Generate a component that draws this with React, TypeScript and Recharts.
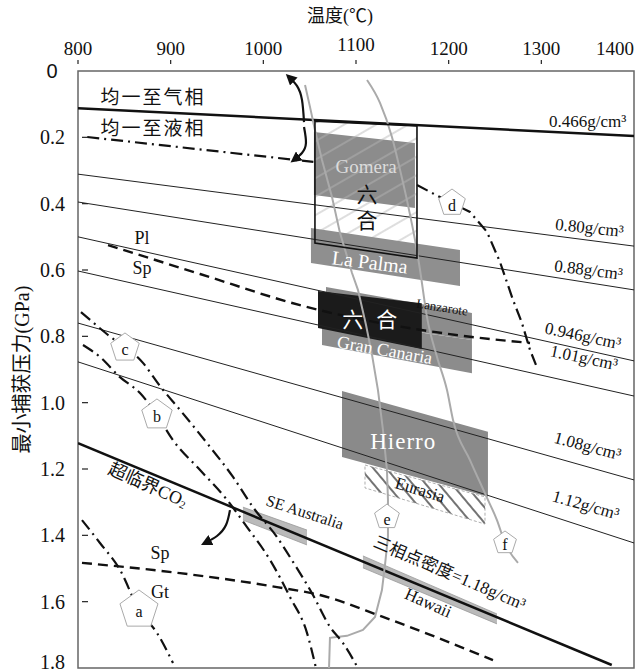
import React from "react";
import { ComposedChart, Line, Area, Scatter, XAxis, YAxis, ReferenceArea } from "recharts";

const W = 636;
const H = 672;
const SERIF = "'Liberation Serif', 'Noto Sans CJK SC', serif";

const tempTicks = [800, 900, 1000, 1100, 1200, 1300, 1400];
const pressTicks = [0, 0.2, 0.4, 0.6, 0.8, 1.0, 1.2, 1.4, 1.6, 1.8];

// 等容线
const iso0466 = [{ T: 800, P: 0.112 }, { T: 1400, P: 0.196 }];
const iso080 = [{ T: 800, P: 0.311 }, { T: 1400, P: 0.528 }];
const iso088 = [{ T: 800, P: 0.395 }, { T: 1400, P: 0.66 }];
const iso0946 = [{ T: 800, P: 0.5 }, { T: 1400, P: 0.874 }];
const iso101 = [{ T: 800, P: 0.603 }, { T: 1400, P: 0.98 }];
const iso108 = [{ T: 800, P: 0.76 }, { T: 1400, P: 1.233 }];
const iso112 = [{ T: 800, P: 0.877 }, { T: 1400, P: 1.423 }];
const isoThin = [iso080, iso088, iso0946, iso101, iso108, iso112];
const co2Line = [{ T: 800, P: 1.122 }, { T: 1376, P: 1.791 }];

// 均一界线, 相界线
const homogLine = [{ T: 810, P: 0.199 }, { T: 1054, P: 0.274 }];
const plSpLine = [
  { T: 832.4, P: 0.525 }, { T: 931.7, P: 0.612 }, { T: 1039.6, P: 0.706 },
  { T: 1225.2, P: 0.802 }, { T: 1287.8, P: 0.82 },
];
const spGtLine = [
  { T: 804.3, P: 1.483 }, { T: 910.1, P: 1.514 }, { T: 1014.7, P: 1.556 },
  { T: 1061.1, P: 1.58 }, { T: 1129.1, P: 1.646 }, { T: 1247.8, P: 1.776 },
];

// a-d 点划线
const curveA = [
  { T: 804.3, P: 1.354 }, { T: 823.7, P: 1.423 }, { T: 845.3, P: 1.504 },
  { T: 865.8, P: 1.625 }, { T: 885.2, P: 1.694 }, { T: 902.5, P: 1.785 },
];
const curveB = [
  { T: 805.4, P: 0.826 }, { T: 823.7, P: 0.862 }, { T: 845.3, P: 0.923 }, { T: 866.9, P: 0.971 },
  { T: 885.2, P: 1.037 }, { T: 902.5, P: 1.113 }, { T: 931.7, P: 1.203 }, { T: 960.8, P: 1.293 },
  { T: 982.4, P: 1.375 }, { T: 1007.2, P: 1.474 }, { T: 1028.8, P: 1.586 }, { T: 1047.1, P: 1.694 },
  { T: 1056.8, P: 1.8 },
];
const curveC = [
  { T: 803.2, P: 0.727 }, { T: 832.4, P: 0.796 }, { T: 870.1, P: 0.88 }, { T: 888.5, P: 0.95 },
  { T: 910.1, P: 1.022 }, { T: 939.2, P: 1.122 }, { T: 967.3, P: 1.224 }, { T: 988.8, P: 1.315 },
  { T: 1014.7, P: 1.405 }, { T: 1032.0, P: 1.48 }, { T: 1053.6, P: 1.58 }, { T: 1071.9, P: 1.676 },
  { T: 1086.0, P: 1.725 }, { T: 1102.1, P: 1.8 },
];
const curveD = [
  { T: 1165.8, P: 0.344 }, { T: 1190.6, P: 0.38 }, { T: 1223.0, P: 0.425 }, { T: 1241.3, P: 0.485 },
  { T: 1255.4, P: 0.576 }, { T: 1269.4, P: 0.69 }, { T: 1279.1, P: 0.76 }, { T: 1287.8, P: 0.841 },
  { T: 1294.2, P: 0.886 },
];

// e, f 灰线
const grayE = [
  { T: 1045.0, P: 0.042 }, { T: 1050.4, P: 0.109 }, { T: 1055.7, P: 0.178 }, { T: 1063.3, P: 0.268 },
  { T: 1074.1, P: 0.38 }, { T: 1082.7, P: 0.488 }, { T: 1095.7, P: 0.609 }, { T: 1102.1, P: 0.66 },
  { T: 1110.8, P: 0.766 }, { T: 1117.3, P: 0.856 }, { T: 1123.7, P: 0.962 }, { T: 1129.1, P: 1.082 },
  { T: 1133.4, P: 1.203 }, { T: 1134.5, P: 1.293 }, { T: 1134.5, P: 1.405 }, { T: 1131.3, P: 1.489 },
  { T: 1128.0, P: 1.565 }, { T: 1120.5, P: 1.646 }, { T: 1107.5, P: 1.685 }, { T: 1090.3, P: 1.703 },
  { T: 1071.9, P: 1.709 }, { T: 1070.9, P: 1.8 },
];
const grayF = [
  { T: 1111.9, P: 0.027 }, { T: 1125.9, P: 0.096 }, { T: 1138.8, P: 0.199 }, { T: 1147.5, P: 0.298 },
  { T: 1156.1, P: 0.404 }, { T: 1163.7, P: 0.51 }, { T: 1169.1, P: 0.6 }, { T: 1176.6, P: 0.742 },
  { T: 1187.4, P: 0.862 }, { T: 1198.2, P: 0.962 }, { T: 1204.7, P: 1.052 }, { T: 1223.0, P: 1.173 },
  { T: 1241.4, P: 1.287 }, { T: 1252.1, P: 1.354 }, { T: 1260.8, P: 1.423 }, { T: 1274.8, P: 1.483 },
];

// 样品区 [上, 下]
const gomeraBox = [{ T: 1055.7, P: [0.151, 0.519] }, { T: 1165.8, P: [0.166, 0.564] }];
const gomera = [{ T: 1054.6, P: [0.184, 0.374] }, { T: 1163.6, P: [0.217, 0.413] }];
const laPalma = [{ T: 1051.4, P: [0.473, 0.579] }, { T: 1212.2, P: [0.54, 0.648] }];
const lanzarote = [{ T: 1067.6, P: [0.651, 0.745] }, { T: 1225.1, P: [0.73, 0.811] }];
const granCanaria = [{ T: 1063.3, P: [0.745, 0.826] }, { T: 1225.1, P: [0.811, 0.911] }];
const liuhe = [{ T: 1059, P: [0.663, 0.775] }, { T: 1171, P: [0.7, 0.838] }];
const hierro = [{ T: 1084.9, P: [0.965, 1.164] }, { T: 1242.4, P: [1.088, 1.284] }];
const eurasia = [{ T: 1109.7, P: [1.188, 1.257] }, { T: 1239.2, P: [1.284, 1.366] }];
const seAustralia = [{ T: 978, P: [1.315, 1.354] }, { T: 1047.1, P: [1.384, 1.429] }];
const hawaii = [{ T: 1107.5, P: [1.462, 1.498] }, { T: 1252.1, P: [1.637, 1.667] }];

// 箭头
const arrowUp = [{ T: 1043.9, P: 0.154 }, { T: 1041.7, P: 0.087 }, { T: 1036.3, P: 0.045 }, { T: 1027.7, P: 0.018 }];
const arrowDown = [{ T: 1043.9, P: 0.169 }, { T: 1046.0, P: 0.217 }, { T: 1041.7, P: 0.247 }, { T: 1033.1, P: 0.268 }];
const arrowCO2 = [{ T: 964.0, P: 1.324 }, { T: 959.7, P: 1.369 }, { T: 950.0, P: 1.402 }, { T: 937.0, P: 1.423 }];

const pentagons = [
  { T: 865.8, P: 1.625, id: "a" },
  { T: 885.2, P: 1.037, id: "b" },
  { T: 850.7, P: 0.835, id: "c" },
  { T: 1203.6, P: 0.398, id: "d" },
  { T: 1133.4, P: 1.345, id: "e" },
  { T: 1260.8, P: 1.423, id: "f" },
];

const labels = [
  { T: 881, P: 0.081, text: "均一至气相" },
  { T: 881, P: 0.172, text: "均一至液相" },
  { T: 869, P: 0.503, text: "Pl" },
  { T: 869, P: 0.594, text: "Sp" },
  { T: 875.5, P: 1.248, text: "超临界CO2" },
  { T: 888.5, P: 1.453, text: "Sp" },
  { T: 888.5, P: 1.571, text: "Gt" },
  { T: 1045, P: 1.33, text: "SE Australia" },
  { T: 1201, P: 1.514, text: "三相点密度=1.18g/cm³" },
  { T: 1178, P: 1.604, text: "Hawaii" },
  { T: 1111, P: 0.289, text: "Gomera" },
  { T: 1112, P: 0.374, text: "六" },
  { T: 1112, P: 0.452, text: "合" },
  { T: 1115, P: 0.576, text: "La Palma" },
  { T: 1117, P: 0.751, text: "六 合" },
  { T: 1193, P: 0.712, text: "Lanzarote" },
  { T: 1131, P: 0.841, text: "Gran Canaria" },
  { T: 1151, P: 1.116, text: "Hierro" },
  { T: 1169, P: 1.263, text: "Eurasia" },
  { T: 1350, P: 0.151, text: "0.466g/cm³" },
  { T: 1352, P: 0.473, text: "0.80g/cm³" },
  { T: 1351, P: 0.6, text: "0.88g/cm³" },
  { T: 1345, P: 0.799, text: "0.946g/cm³" },
  { T: 1346, P: 0.865, text: "1.01g/cm³" },
  { T: 1350, P: 1.131, text: "1.08g/cm³" },
  { T: 1348, P: 1.309, text: "1.12g/cm³" },
];

const pentR: Record<string, number> = { a: 20, b: 16, c: 15, d: 14, e: 13, f: 12 };

type LS = { size: number; rot?: number; fill?: string; spacing?: number };
const labelStyle: Record<string, LS> = {
  "均一至气相": { size: 19, spacing: 2 },
  "均一至液相": { size: 19, spacing: 2 },
  Pl: { size: 18 },
  Sp: { size: 18 },
  Gt: { size: 18 },
  "超临界CO2": { size: 18, rot: 24 },
  "SE Australia": { size: 16, rot: 18 },
  "三相点密度=1.18g/cm³": { size: 17, rot: 23 },
  Hawaii: { size: 17, rot: 24 },
  Gomera: { size: 19, fill: "#dcdcdc" },
  "六": { size: 21 },
  "合": { size: 21 },
  "La Palma": { size: 20, rot: 7, fill: "#fff" },
  "六 合": { size: 21, fill: "#fff", spacing: 4 },
  Lanzarote: { size: 13, rot: 9 },
  "Gran Canaria": { size: 18, rot: 10, fill: "#fff" },
  Hierro: { size: 23, fill: "#fff", spacing: 1 },
  Eurasia: { size: 17, rot: 17 },
  "0.466g/cm³": { size: 17 },
  "0.80g/cm³": { size: 17, rot: 6 },
  "0.88g/cm³": { size: 17, rot: 7 },
  "0.946g/cm³": { size: 17, rot: 12 },
  "1.01g/cm³": { size: 17, rot: 12 },
  "1.08g/cm³": { size: 17, rot: 15 },
  "1.12g/cm³": { size: 17, rot: 16 },
};

const outline = (box: { T: number; P: number[] }[]) => [
  { T: box[0].T, P: box[0].P[0] },
  { T: box[1].T, P: box[1].P[0] },
  { T: box[1].T, P: box[1].P[1] },
  { T: box[0].T, P: box[0].P[1] },
  { T: box[0].T, P: box[0].P[0] },
];

function PentagonShape(props: any) {
  const { cx, cy, payload } = props;
  const r = pentR[payload.id] || 14;
  const pts = [0, 1, 2, 3, 4]
    .map((i) => {
      const a = ((-90 + 72 * i) * Math.PI) / 180;
      return `${cx + r * Math.cos(a)},${cy + r * Math.sin(a)}`;
    })
    .join(" ");
  return (
    <g>
      <polygon points={pts} fill="#fff" stroke="#aaa" strokeWidth={1} />
      <text x={cx} y={cy + 2} textAnchor="middle" dominantBaseline="central" fontSize={16} fontFamily={SERIF} fill="#111">
        {payload.id}
      </text>
    </g>
  );
}

function TextShape(props: any) {
  const { cx, cy, payload } = props;
  const s = labelStyle[payload.text] || { size: 16 };
  const t: string = payload.text;
  const content = t.endsWith("CO2") ? (
    <>
      {t.slice(0, -1)}
      <tspan fontSize="0.6em" dy="0.35em">2</tspan>
    </>
  ) : (
    t
  );
  return (
    <text
      x={cx}
      y={cy}
      transform={s.rot ? `rotate(${s.rot} ${cx} ${cy})` : undefined}
      textAnchor="middle"
      dominantBaseline="central"
      fontSize={s.size}
      fontFamily={SERIF}
      fill={s.fill || "#111"}
      letterSpacing={s.spacing || 0}
    >
      {content}
    </text>
  );
}

function XTick(props: any) {
  const { x, y, payload } = props;
  const v = payload.value;
  const last = v === 1400;
  return (
    <g>
      <text
        x={x}
        y={y - 23 + (v === 1100 ? -4 : 0)}
        textAnchor={last ? "end" : "middle"}
        dominantBaseline="central"
        fontSize={19}
        fontFamily={SERIF}
        fill="#111"
      >
        {v}
      </text>
      {!last && <line x1={x} x2={x} y1={y - 11} y2={y - 7} stroke="#222" strokeWidth={1.2} />}
    </g>
  );
}

function YTick(props: any) {
  const { x, y, payload } = props;
  const v = payload.value;
  if (v === 0) {
    return (
      <text x={x - 26} y={y} textAnchor="middle" dominantBaseline="central" fontSize={20} fontFamily="'Liberation Sans', sans-serif" fill="#111">
        0
      </text>
    );
  }
  const last = v >= 1.8;
  return (
    <g>
      <text x={x - 13} y={last ? y - 6 : y} textAnchor="end" dominantBaseline="central" fontSize={20} fontFamily={SERIF} fill="#111">
        {v.toFixed(1)}
      </text>
      {!last && <line x1={x + 4} x2={x + 10} y1={y} y2={y} stroke="#222" strokeWidth={1.2} />}
    </g>
  );
}

const XTitle = (props: any) => {
  const vb = props.viewBox;
  return (
    <text x={vb.x + vb.width / 2 - 16} y={vb.y + 16} textAnchor="middle" dominantBaseline="central" fontSize={18} fontFamily={SERIF} fill="#111">
      温度(℃)
    </text>
  );
};

const YTitle = (props: any) => {
  const vb = props.viewBox;
  const cx = vb.x + 22;
  const cy = vb.y + vb.height / 2;
  return (
    <text x={cx} y={cy} transform={`rotate(-90 ${cx} ${cy})`} textAnchor="middle" dominantBaseline="central" fontSize={20} fontFamily={SERIF} fill="#111">
      最小捕获压力(GPa)
    </text>
  );
};

const lineCommon = { dataKey: "P", dot: false, activeDot: false, isAnimationActive: false, legendType: "none" as const };
const DASHDOT = "12 5 2 5";

export default function App() {
  return (
    <div style={{ position: "absolute", left: 0, top: 0, width: W, height: H, background: "#fff" }}>
      <svg width={0} height={0} style={{ position: "absolute" }}>
        <defs>
          <pattern id="hatchLight" patternUnits="userSpaceOnUse" width="20" height="16" patternTransform="rotate(-30)">
            <line x1="0" y1="8" x2="20" y2="8" stroke="#b5b5b5" strokeWidth="0.9" />
          </pattern>
          <pattern id="hatchEur" patternUnits="userSpaceOnUse" width="10" height="10" patternTransform="rotate(50)">
            <line x1="0" y1="5" x2="10" y2="5" stroke="#000" strokeWidth="1.1" />
          </pattern>
          <marker id="arrowHead" viewBox="0 0 10 10" refX="6" refY="5" markerWidth="5" markerHeight="5" orient="auto">
            <path d="M0,0 L10,5 L0,10 z" fill="#111" />
          </marker>
        </defs>
      </svg>
      <ComposedChart width={W} height={H} margin={{ top: 0, right: 2, bottom: 4, left: 0 }}>
        <XAxis
          dataKey="T"
          type="number"
          orientation="top"
          domain={[800, 1400]}
          ticks={tempTicks}
          interval={0}
          height={71}
          axisLine={false}
          tickLine={false}
          tickSize={0}
          tickMargin={0}
          allowDataOverflow
          tick={(p: any) => <XTick {...p} />}
          label={{ content: XTitle }}
        />
        <YAxis
          dataKey="P"
          type="number"
          domain={[0, 1.8]}
          reversed
          ticks={pressTicks}
          interval={0}
          width={78}
          axisLine={false}
          tickLine={false}
          tickSize={0}
          tickMargin={0}
          allowDataOverflow
          tick={(p: any) => <YTick {...p} />}
          label={{ content: YTitle }}
        />

        {isoThin.map((d, i) => (
          <Line key={`iso${i}`} {...lineCommon} data={d} type="linear" stroke="#222" strokeWidth={1} />
        ))}
        <Line {...lineCommon} data={iso0466} type="linear" stroke="#111" strokeWidth={2.5} />
        <Line {...lineCommon} data={co2Line} type="linear" stroke="#111" strokeWidth={2.5} />

        <Line {...lineCommon} data={grayE} type="linear" stroke="#aaa" strokeWidth={2} />
        <Line {...lineCommon} data={grayF} type="monotone" stroke="#aaa" strokeWidth={2} />

        <Line {...lineCommon} data={homogLine} type="linear" stroke="#111" strokeWidth={2.2} strokeDasharray={DASHDOT} />
        <Line {...lineCommon} data={plSpLine} type="monotone" stroke="#111" strokeWidth={2.4} strokeDasharray="10 6" />
        <Line {...lineCommon} data={spGtLine} type="monotone" stroke="#111" strokeWidth={2.4} strokeDasharray="10 6" />
        <Line {...lineCommon} data={curveA} type="monotone" stroke="#111" strokeWidth={2.2} strokeDasharray={DASHDOT} />
        <Line {...lineCommon} data={curveB} type="monotone" stroke="#111" strokeWidth={2.2} strokeDasharray={DASHDOT} />
        <Line {...lineCommon} data={curveC} type="monotone" stroke="#111" strokeWidth={2.2} strokeDasharray={DASHDOT} />
        <Line {...lineCommon} data={curveD} type="linear" stroke="#111" strokeWidth={2.2} strokeDasharray={DASHDOT} />

        <Area {...lineCommon} data={gomera} type="linear" fill="#8c8c8c" fillOpacity={1} stroke="none" />
        <Area {...lineCommon} data={gomeraBox} type="linear" fill="url(#hatchLight)" fillOpacity={1} stroke="none" />
        <Area {...lineCommon} data={laPalma} type="linear" fill="#8f8f8f" fillOpacity={1} stroke="none" />
        <Line {...lineCommon} data={outline(gomeraBox)} type="linear" stroke="#111" strokeWidth={1.6} />
        <Area {...lineCommon} data={lanzarote} type="linear" fill="#8c8c8c" fillOpacity={1} stroke="none" />
        <Area {...lineCommon} data={granCanaria} type="linear" fill="#8c8c8c" fillOpacity={1} stroke="none" />
        <Area {...lineCommon} data={liuhe} type="linear" fill="#1b1b1b" fillOpacity={1} stroke="none" />
        <Area {...lineCommon} data={eurasia} type="linear" fill="url(#hatchEur)" fillOpacity={1} stroke="none" />
        <Line {...lineCommon} data={outline(eurasia)} type="linear" stroke="#999" strokeWidth={0.8} strokeDasharray="3 2" />
        <Area {...lineCommon} data={hierro} type="linear" fill="#8a8a8a" fillOpacity={1} stroke="none" />
        <Area {...lineCommon} data={seAustralia} type="linear" fill="#bababa" fillOpacity={1} stroke="#999" strokeWidth={0.8} />
        <Area {...lineCommon} data={hawaii} type="linear" fill="#bababa" fillOpacity={1} stroke="#999" strokeWidth={0.8} />

        <Line {...lineCommon} data={arrowUp} type="natural" stroke="#111" strokeWidth={2.2} markerEnd="url(#arrowHead)" />
        <Line {...lineCommon} data={arrowDown} type="natural" stroke="#111" strokeWidth={2.2} markerEnd="url(#arrowHead)" />
        <Line {...lineCommon} data={arrowCO2} type="natural" stroke="#111" strokeWidth={2.2} markerEnd="url(#arrowHead)" />

        <Scatter data={pentagons} dataKey="P" shape={PentagonShape} isAnimationActive={false} legendType="none" />
        <Scatter data={labels} dataKey="P" shape={TextShape} isAnimationActive={false} legendType="none" />

        <ReferenceArea x1={800} x2={1400} y1={0} y2={1.8} fill="none" stroke="#666" strokeWidth={1.5} ifOverflow="visible" />
      </ComposedChart>
    </div>
  );
}
